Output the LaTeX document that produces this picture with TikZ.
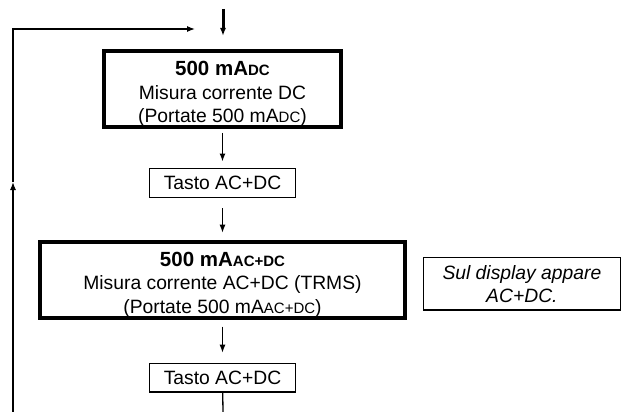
\documentclass[tikz,border=0pt]{standalone}
\usepackage{fontspec}
\setmainfont{Liberation Sans}
\usetikzlibrary{arrows.meta,positioning}
\newcommand{\lowcaps}[1]{{\fontsize{15}{15}\selectfont #1}}
\newcommand{\boxtitle}[1]{{\fontsize{20.5}{24}\selectfont\bfseries\rule{0pt}{24pt}#1}}

\begin{document}
\begin{tikzpicture}[x=1pt,y=1pt,>={Latex[length=8pt,width=6pt]},line width=1.3pt,
  font=\fontsize{19.3}{23.3}\selectfont,
  mainbox/.style={draw,line width=4pt,minimum width=237pt,minimum height=76pt,align=center,inner sep=0pt},
  keybox/.style={draw,line width=1.3pt,minimum width=146.5pt,minimum height=28.7pt,inner sep=0pt},
  notebox/.style={draw,line width=1.3pt,minimum width=196.5pt,minimum height=52.5pt,align=center,inner sep=0pt,font=\fontsize{19.3}{23}\selectfont\itshape}]
  \useasboundingbox (0,0) rectangle (622,-412);
  \node[mainbox] (dcbox) at (222.5,-89) {\boxtitle{500 mA\lowcaps{DC}}\\Misura corrente DC\\(Portate 500 mA\lowcaps{DC})};
  \node[keybox,below=39pt of dcbox] (key1) {Tasto AC+DC};
  \node[mainbox,minimum width=365pt,below=41.7pt of key1] (acbox) {\boxtitle{500 mA\lowcaps{AC+DC}}\\Misura corrente AC+DC (TRMS)\\(Portate 500 mA\lowcaps{AC+DC})};
  \node[keybox,below=43pt of acbox] (key2) {Tasto AC+DC};
  \node[notebox,right=16pt of acbox,yshift=-4pt] (note) {Sul display appare\\AC+DC.};
  % ingresso e uscita
  \coordinate (entry) at (223,-9);
  \coordinate (exit) at (223,-412);
  \draw[->,line width=3pt,shorten >=13pt] (entry) -- (entry |- dcbox.north);
  \draw[->,shorten <=4pt,shorten >=6.5pt] (dcbox) -- (key1);
  \draw[->,shorten <=10pt,shorten >=7pt] (key1) -- (acbox);
  \draw[->,shorten <=7pt,shorten >=10pt] (acbox) -- (key2);
  \draw (key2) -- (exit);
  % ritorno
  \coordinate (loopbot) at (13,-412);
  \coordinate (loopmid) at (13,-182);
  \coordinate (loopend) at (195,-29);
  \draw[->] (loopbot) -- (loopmid);
  \draw[->] (loopmid) |- (loopend);
\end{tikzpicture}
\end{document}
